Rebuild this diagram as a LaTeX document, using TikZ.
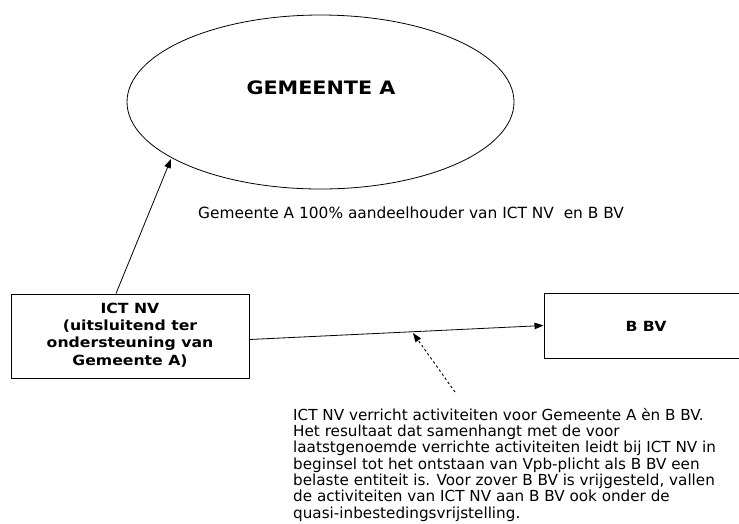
\documentclass[tikz,border=0pt]{standalone}
\usepackage{fontspec}
\setmainfont{DejaVu Sans}[BoldFeatures={FakeStretch=1.12}]
\usetikzlibrary{shapes.geometric,arrows.meta}
\tikzset{
  box/.style={draw, line width=0.9pt, rectangle, inner sep=0pt},
  lbl/.style={font=\fontsize{14}{17.3}\selectfont\bfseries, align=center},
  arr/.style={line width=0.8pt, -{Triangle[length=9pt,width=6.5pt]}},
  dasharr/.style={line width=0.9pt, dash pattern=on 2.5pt off 2.5pt, -{Triangle[length=9pt,width=6.5pt]}}
}
\begin{document}
\begin{tikzpicture}[x=1pt,y=-1pt]
\useasboundingbox (0,0) rectangle (739,523);
\node[ellipse, draw, line width=0.8pt, minimum width=387pt, minimum height=174pt, inner sep=0pt] (gem) at (320.5,102) {};
\node[font=\fontsize{18.5}{20}\selectfont\bfseries] (gemt) at (321,88) {GEMEENTE A};
\node[box, minimum width=238pt, minimum height=84pt] (ict) at (130,336) {};
\node[lbl] (ictt) at (130,335) {ICT NV\\(uitsluitend ter\\ondersteuning van\\Gemeente A)};
\node[box, minimum width=204pt, minimum height=65pt] (bbv) at (646,325.5) {};
\node[lbl] (bbvt) at (646,326) {B BV};
\node[font=\fontsize{15.4}{17}\selectfont, anchor=west, inner sep=0pt] (share) at (198,213) {Gemeente A 100\% aandeelhouder van ICT NV\ \ en B BV};
\node[font=\fontsize{15.2}{16.3}\selectfont, align=left, anchor=north west, inner sep=0pt] (note) at (293,408) {ICT NV verricht activiteiten voor Gemeente A èn B BV.\\Het resultaat dat samenhangt met de voor\\laatstgenoemde verrichte activiteiten leidt bij ICT NV in\\beginsel tot het ontstaan van Vpb-plicht als B BV een\\belaste entiteit is. Voor zover B BV is vrijgesteld, vallen\\de activiteiten van ICT NV aan B BV ook onder de\\quasi-inbestedingsvrijstelling.};
\coordinate (gtip) at (171,159);
\coordinate (dstart) at (455,392);
\coordinate (dtip) at (413,333);
\draw[arr] ([xshift=-14pt]ict.north) -- (gtip);
\draw[arr] ([yshift=-3.5pt]ict.east) -- (bbv.west);
\draw[dasharr] (dstart) -- (dtip);
\end{tikzpicture}
\end{document}
